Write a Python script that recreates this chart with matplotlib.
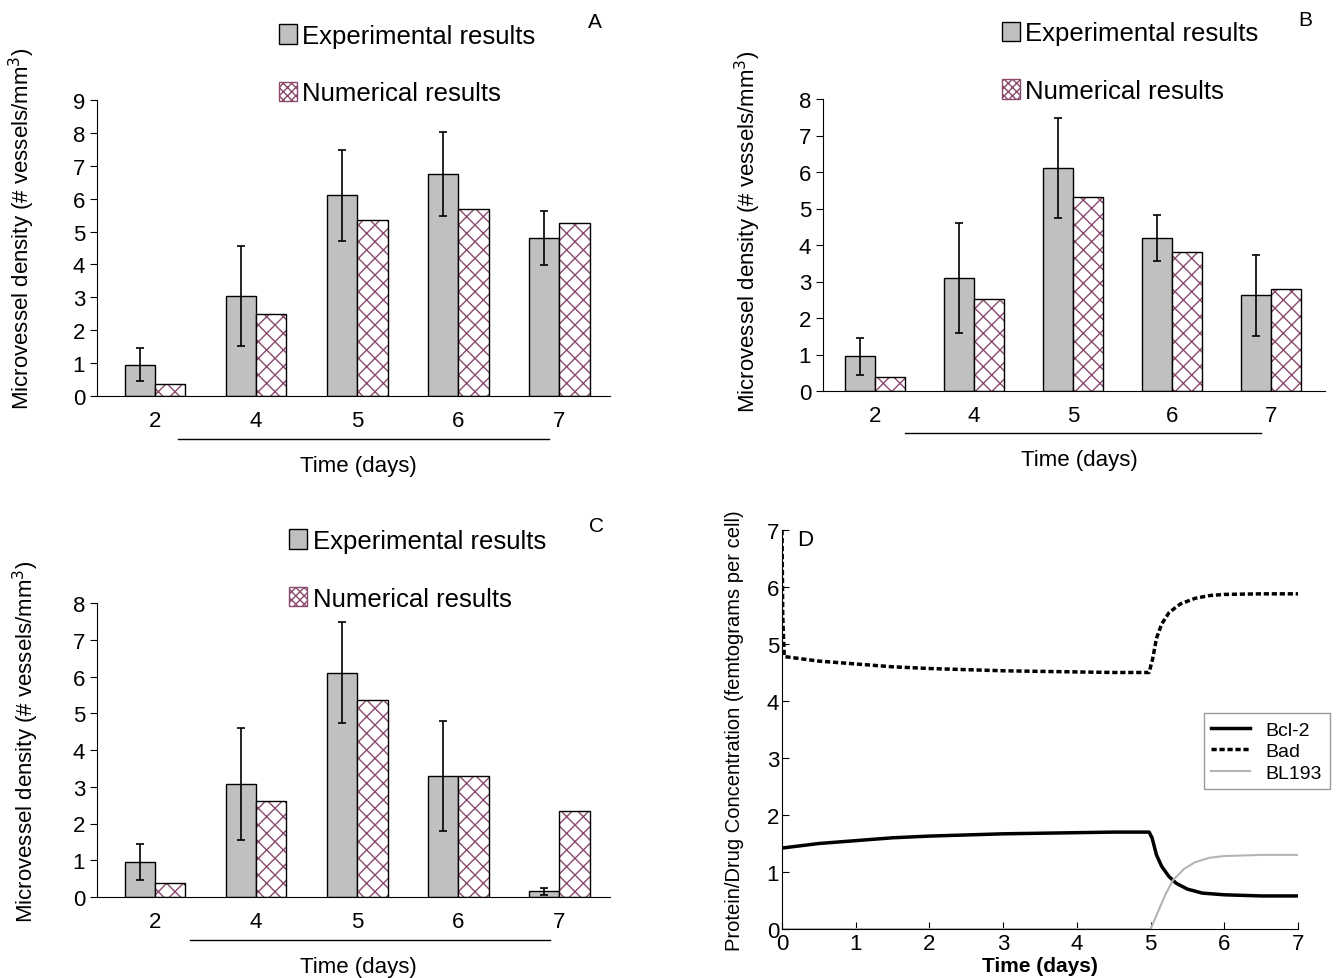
import matplotlib
matplotlib.use("Agg")
import matplotlib.pyplot as plt
import numpy as np

plt.rcParams['font.family'] = ['Liberation Sans', 'DejaVu Sans']
plt.rcParams['hatch.linewidth'] = 1.0

# 막대 그래프 데이터 (A, B, C)
days = ["2", "4", "5", "6", "7"]

exp_a = [0.95, 3.05, 6.1, 6.75, 4.8]
err_a = [0.5, 1.52, 1.38, 1.27, 0.83]
num_a = [0.35, 2.5, 5.35, 5.7, 5.25]

exp_b = [0.95, 3.1, 6.1, 4.2, 2.62]
err_b = [0.5, 1.5, 1.37, 0.63, 1.1]
num_b = [0.37, 2.52, 5.32, 3.8, 2.8]

exp_c = [0.95, 3.08, 6.1, 3.3, 0.15]
err_c = [0.48, 1.52, 1.37, 1.5, 0.1]
num_c = [0.38, 2.6, 5.37, 3.3, 2.35]

# 곡선 데이터 (D)
t_bcl2 = [0, 0.5, 1, 1.5, 2, 2.5, 3, 3.5, 4, 4.5, 4.98, 5.02, 5.08, 5.15, 5.25,
          5.35, 5.5, 5.7, 6, 6.5, 7]
v_bcl2 = [1.42, 1.5, 1.55, 1.6, 1.63, 1.65, 1.67, 1.68, 1.69, 1.7, 1.7, 1.6, 1.3,
          1.1, 0.92, 0.8, 0.7, 0.63, 0.6, 0.58, 0.58]
t_bad = [0, 0.01, 0.03, 0.5, 1, 1.5, 2, 2.5, 3, 3.5, 4, 4.5, 4.98, 5.03, 5.08,
         5.15, 5.25, 5.4, 5.6, 5.8, 6, 6.5, 7]
v_bad = [7.0, 5.5, 4.78, 4.7, 4.65, 4.6, 4.57, 4.55, 4.53, 4.52, 4.51, 4.5, 4.5,
         4.75, 5.1, 5.35, 5.55, 5.7, 5.8, 5.85, 5.87, 5.88, 5.88]
t_bl193 = [0, 5, 5.1, 5.2, 5.3, 5.45, 5.6, 5.8, 6, 6.5, 7]
v_bl193 = [0, 0, 0.3, 0.6, 0.85, 1.05, 1.17, 1.25, 1.28, 1.3, 1.3]

W, H = 1337, 979
fig = plt.figure(figsize=(W / 100, H / 100), dpi=100)


def px_axes(left, right, bottom, top):
    """픽셀 좌표로 축 만들기"""
    return fig.add_axes([left / W, 1 - bottom / H, (right - left) / W, (bottom - top) / H])


def bar_panel(ax, exp, err, num, ymax, xlim, line_x, leg_x, leg_y, lab_xy):
    x = np.arange(len(days))
    w = 0.3
    ax.bar(x - w / 2, exp, w, color="#c0c0c0", edgecolor="black", linewidth=1.0,
           label="Experimental results", zorder=2)
    ax.bar(x + w / 2, num, w, color="white", edgecolor="#8a4a6e", hatch="xx",
           linewidth=0, zorder=2)
    ax.bar(x + w / 2, num, w, color="none", edgecolor="black", linewidth=1.0, zorder=3)
    ax.errorbar(x - w / 2, exp, yerr=err, fmt="none", ecolor="black", elinewidth=1.2,
                capsize=3, capthick=1.2, zorder=4)
    # 범례용 핸들
    ax.bar([np.nan], [np.nan], color="white", edgecolor="#8a4a6e", hatch="xxxx",
           label="Numerical results")
    ax.set_xlim(*xlim)
    ax.set_ylim(0, ymax)
    ax.set_yticks(range(0, ymax + 1))
    ax.set_xticks(x)
    ax.set_xticklabels(days)
    ax.tick_params(axis="x", length=0, pad=10, labelsize=16)
    ax.tick_params(axis="y", direction="out", length=5, labelsize=16)
    for s in ["top", "right"]:
        ax.spines[s].set_visible(False)
    ax.set_ylabel("Microvessel density (# vessels/mm$^3$)", fontsize=16)
    ax.yaxis.set_label_coords(*lab_xy)
    ax.plot(line_x, [-0.145, -0.145], color="black", lw=1.0, clip_on=False,
            transform=ax.get_xaxis_transform())
    ax.text(0.51, -0.235, "Time (days)", transform=ax.transAxes, ha="center",
            va="center", fontsize=16)
    leg = ax.legend(loc="upper left", bbox_to_anchor=(leg_x, leg_y), frameon=False,
                    fontsize=18.5, labelspacing=1.3, handlelength=0.7, handleheight=0.8,
                    handletextpad=0.2)
    return leg


ax_a = px_axes(97, 610, 397, 101)
bar_panel(ax_a, exp_a, err_a, num_a, 9, (-0.574, 4.5), [0.23, 3.9], 0.31, 1.335,
          (-0.117, 0.57))
fig.text(595 / W, 1 - 22 / H, "A", fontsize=15, ha="center", va="center")

ax_b = px_axes(823, 1325, 392, 100)
bar_panel(ax_b, exp_b, err_b, num_b, 8, (-0.525, 4.545), [0.3, 3.9], 0.31, 1.345,
          (-0.12, 0.55))
fig.text(1305 / W, 1 - 20 / H, "B", fontsize=15, ha="center", va="center")

ax_c = px_axes(97, 610, 898, 604)
bar_panel(ax_c, exp_c, err_c, num_c, 8, (-0.574, 4.5), [0.35, 3.91], 0.33, 1.33,
          (-0.109, 0.53))
fig.text(597 / W, 1 - 527 / H, "C", fontsize=15, ha="center", va="center")

# 패널 D
ax_d = px_axes(782, 1298, 930, 531)
ax_d.plot(t_bcl2, v_bcl2, color="black", lw=2.5, label="Bcl-2")
ax_d.plot(t_bad, v_bad, color="black", lw=2.5, linestyle=(0, (1.5, 0.8)), label="Bad")
ax_d.plot(t_bl193, v_bl193, color="#b4b4b4", lw=1.5, label="BL193")
ax_d.set_xlim(0, 7)
ax_d.set_ylim(0, 7)
ax_d.set_xticks(range(0, 8))
ax_d.set_yticks(range(0, 8))
ax_d.tick_params(direction="in", length=5, labelsize=16, pad=3)
ax_d.tick_params(axis="y", pad=2)
for s in ["top", "right"]:
    ax_d.spines[s].set_visible(False)
ax_d.set_xlabel("Time (days)", fontsize=15, fontweight="bold", labelpad=1)
ax_d.set_ylabel("Protein/Drug Concentration (femtograms per cell)", fontsize=14.5,
                labelpad=16)
ax_d.text(0.03, 0.975, "D", transform=ax_d.transAxes, fontsize=16, va="center")
ax_d.legend(loc="upper right", bbox_to_anchor=(1.062, 0.541), fontsize=14,
            fancybox=False, edgecolor="#999999", framealpha=1, handlelength=2.0,
            borderpad=0.4, labelspacing=0.2, borderaxespad=0)

fig.savefig("out.png", dpi=100)
